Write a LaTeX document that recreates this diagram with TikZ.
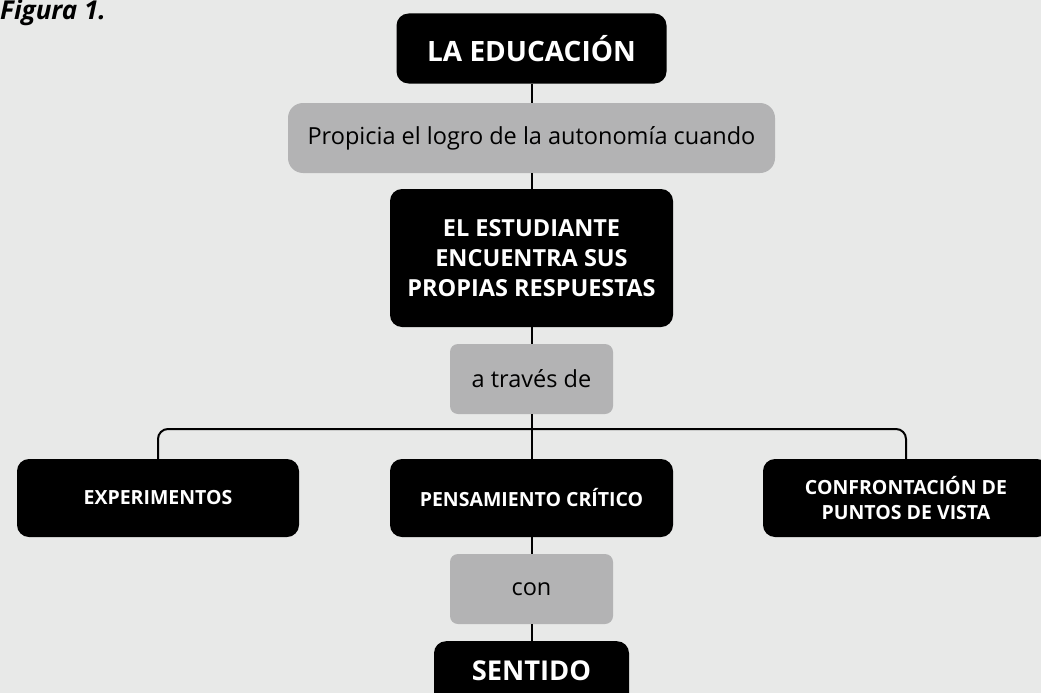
\documentclass[tikz,border=0pt]{standalone}
\usepackage{fontspec}
\setmainfont{Open Sans}
\definecolor{fondo}{HTML}{E8E9E8}
\definecolor{gris}{HTML}{B3B3B4}

\begin{document}
\begin{tikzpicture}[x=1pt,y=-1pt,
    concepto/.style={fill=black,text=white,font=\bfseries,rounded corners=12pt,
      align=center,inner sep=0pt},
    enlace/.style={fill=gris,text=black,rounded corners=8pt,align=center,inner sep=0pt},
    conector/.style={line width=2pt,black}]
    \useasboundingbox (0,0) rectangle (1041,693);
    \clip (0,0) rectangle (1041,693);
    \fill[fondo] (0,0) rectangle (1041,693);

    \node[anchor=north west,inner sep=0pt,font=\fontsize{26}{30}\selectfont\bfseries\itshape]
      (titulo) at (0,0) {Figura 1.};

    \node[concepto,minimum width=270pt,minimum height=70pt,font=\fontsize{28}{34}\selectfont\bfseries]
      (educ) at (531.5,48.5) {LA EDUCACIÓN};
    \node[enlace,rounded corners=15pt,minimum width=487pt,minimum height=70pt,
      font=\fontsize{23.5}{28}\selectfont] (propicia) at (531.5,138) {Propicia el logro de la autonomía cuando};
    \node[concepto,minimum width=283pt,minimum height=138pt,
      font=\fontsize{23.5}{30}\selectfont\bfseries] (estud) at (531.5,258)
      {EL ESTUDIANTE\\ENCUENTRA SUS\\PROPIAS RESPUESTAS};
    \node[enlace,minimum width=163pt,minimum height=70pt,font=\fontsize{23.5}{28}\selectfont]
      (traves) at (531.5,379) {a través de};

    \node[concepto,minimum width=282pt,minimum height=78pt,font=\fontsize{19.5}{25}\selectfont\bfseries]
      (exper) at (158,498) {EXPERIMENTOS};
    \node[concepto,minimum width=283pt,minimum height=78pt,font=\fontsize{19.5}{25}\selectfont\bfseries]
      (pensam) at (531.5,498) {PENSAMIENTO CRÍTICO};
    \node[concepto,minimum width=286pt,minimum height=78pt,font=\fontsize{19.5}{25}\selectfont\bfseries]
      (confront) at (906,498) {CONFRONTACIÓN DE\\PUNTOS DE VISTA};

    \node[enlace,minimum width=163pt,minimum height=70pt,font=\fontsize{23.5}{28}\selectfont]
      (con) at (531.5,589) {con};
    \node[concepto,anchor=north,minimum width=195pt,inner ysep=20pt,text height=19.5pt,
      text depth=20pt,font=\fontsize{27.3}{34}\selectfont\bfseries]
      (sentido) at (531.5,641) {SENTIDO};

    \coordinate (rama) at (531.5,429);

    \draw[conector] (educ) -- (propicia);
    \draw[conector] (propicia) -- (estud);
    \draw[conector] (estud) -- (traves);
    \draw[conector] (traves) -- (pensam);
    \draw[conector] (pensam) -- (con);
    \draw[conector] (con) -- (sentido);
    \draw[conector,rounded corners=10pt] (exper.north) |- (rama) -| (confront.north);
\end{tikzpicture}
\end{document}
